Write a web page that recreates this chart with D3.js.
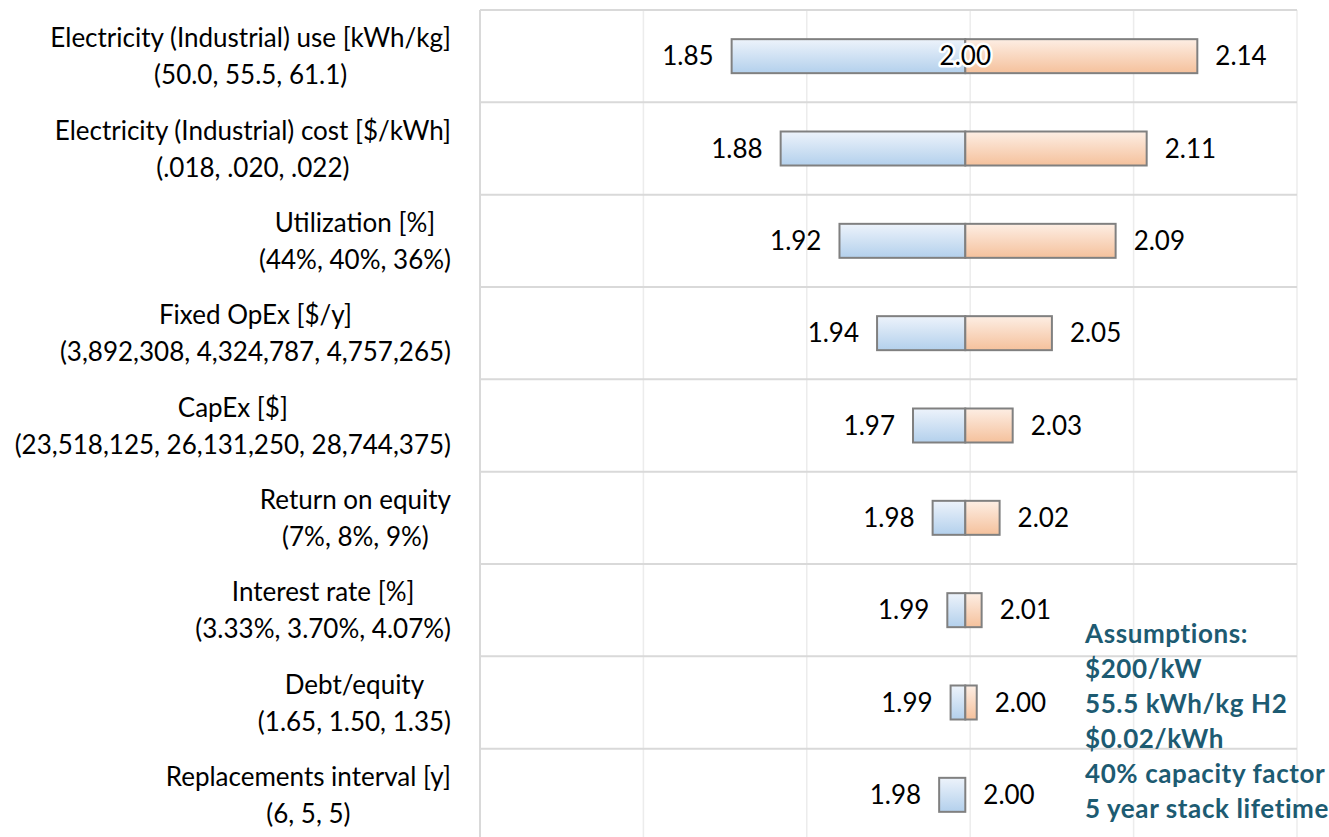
<!DOCTYPE html>
<html>
<head>
<meta charset="utf-8">
<script src="https://cdn.jsdelivr.net/npm/d3@7"></script>
<style>
  body { margin: 0; background: #fff; }
  svg { display: block; }
  text { font-family: Lato, "Open Sans", sans-serif; fill: #000; }
</style>
</head>
<body>
<div class="chartContainer"></div>
<script>
// category labels, two lines each
var paramNames = ["Electricity (Industrial) use [kWh/kg]", "Electricity (Industrial) cost [$/kWh]", "Utilization [%]",
    "Fixed OpEx [$/y]", "CapEx [$]", "Return on equity", "Interest rate [%]", "Debt/equity", "Replacements interval [y]"];
var paramRanges = ["(50.0, 55.5, 61.1)", "(.018, .020, .022)", "(44%, 40%, 36%)",
    "(3,892,308, 4,324,787, 4,757,265)", "(23,518,125, 26,131,250, 28,744,375)", "(7%, 8%, 9%)",
    "(3.33%, 3.70%, 4.07%)", "(1.65, 1.50, 1.35)", "(6, 5, 5)"];

// H2 cost results, low and high cases
var lowValues  = [1.854, 1.884, 1.920, 1.943, 1.965, 1.977, 1.986, 1.988, 1.981];
var highValues = [2.139, 2.108, 2.089, 2.050, 2.026, 2.018, 2.007, 2.004, 1.997];
var baseValue = 1.997;

var axisTicks = [1.7, 1.8, 1.9, 2.0, 2.1, 2.2];

var assumptions = ["Assumptions:", "$200/kW", "55.5 kWh/kg H2", "$0.02/kWh", "40% capacity factor", "5 year stack lifetime"];

window.onload = drawChart();

function drawChart(){
    var width = 1329,
        height = 837;

    var plotLeft = 480, plotRight = 1297, plotTop = 10, plotBottom = 841;

    var svg = d3.select("div.chartContainer")
        .append("svg")
        .attr("width", width)
        .attr("height", height);

    var defs = svg.append("defs");
    makeGradient(defs, "blueGrad", "#edf3fb", "#b3d0ec");
    makeGradient(defs, "orangeGrad", "#fdeee4", "#f5c19c");

    var x = d3.scaleLinear()
        .domain([1.7, 2.2])
        .range([plotLeft, plotRight]);

    var y = d3.scaleBand()
        .domain(d3.range(paramNames.length))
        .range([plotTop, plotBottom]);

    var rows = d3.range(paramNames.length);
    var fmt = d3.format(".2f");
    var fs = "26px";

    //vertical gridlines
    svg.selectAll(".vgrid")
        .data(axisTicks)
        .enter()
        .append("line")
        .attr("class", "vgrid")
        .attr("x1", function(d){ return x(d); })
        .attr("x2", function(d){ return x(d); })
        .attr("y1", plotTop)
        .attr("y2", height)
        .style("stroke", function(d, i){ return i == 0 ? "#d9d9d9" : "#ececec"; })
        .style("stroke-width", function(d, i){ return i == 0 ? 2 : 1.5; });

    //horizontal lines between categories
    svg.selectAll(".hgrid")
        .data(d3.range(paramNames.length + 1))
        .enter()
        .append("line")
        .attr("class", "hgrid")
        .attr("x1", plotLeft)
        .attr("x2", plotRight)
        .attr("y1", function(d){ return plotTop + d * y.step(); })
        .attr("y2", function(d){ return plotTop + d * y.step(); })
        .style("stroke", "#d9d9d9")
        .style("stroke-width", 2);

    var barH = 34;

    //low side bars (blue)
    svg.selectAll(".lowBar")
        .data(rows)
        .enter()
        .append("rect")
        .attr("class", "lowBar")
        .attr("x", function(i){ return x(lowValues[i]); })
        .attr("width", function(i){ return x(baseValue) - x(lowValues[i]); })
        .attr("y", function(i){ return y(i) + y.bandwidth() / 2 - barH / 2; })
        .attr("height", barH)
        .style("fill", "url(#blueGrad)")
        .style("stroke", "#808080")
        .style("stroke-width", 2);

    //high side bars (orange)
    svg.selectAll(".highBar")
        .data(rows.filter(function(i){ return highValues[i] > baseValue; }))
        .enter()
        .append("rect")
        .attr("class", "highBar")
        .attr("x", x(baseValue))
        .attr("width", function(i){ return x(highValues[i]) - x(baseValue); })
        .attr("y", function(i){ return y(i) + y.bandwidth() / 2 - barH / 2; })
        .attr("height", barH)
        .style("fill", "url(#orangeGrad)")
        .style("stroke", "#808080")
        .style("stroke-width", 2);

    //value labels
    svg.selectAll(".lowLabel")
        .data(rows)
        .enter()
        .append("text")
        .attr("class", "lowLabel")
        .attr("x", function(i){ return x(lowValues[i]) - 18; })
        .attr("y", function(i){ return y(i) + y.bandwidth() / 2; })
        .attr("dy", "0.35em")
        .attr("text-anchor", "end")
        .style("font-size", fs)
        .text(function(i){ return fmt(lowValues[i]); });

    svg.selectAll(".highLabel")
        .data(rows)
        .enter()
        .append("text")
        .attr("class", "highLabel")
        .attr("x", function(i){ return x(highValues[i]) + 18; })
        .attr("y", function(i){ return y(i) + y.bandwidth() / 2; })
        .attr("dy", "0.35em")
        .attr("text-anchor", "start")
        .style("font-size", fs)
        .text(function(i){ return fmt(highValues[i]); });

    //base value label on the first bar
    svg.append("text")
        .attr("x", x(baseValue))
        .attr("y", y(0) + y.bandwidth() / 2)
        .attr("dy", "0.35em")
        .attr("text-anchor", "middle")
        .style("font-size", fs)
        .style("stroke", "#fff")
        .style("stroke-width", 5)
        .style("stroke-linejoin", "round")
        .style("paint-order", "stroke")
        .text(fmt(baseValue));

    //category labels, two centred lines, block right aligned
    var labelRight = 451;
    rows.forEach(function(i){
        var cy = y(i) + y.bandwidth() / 2;
        var g = svg.append("g").attr("class", "catLabel");
        var t1 = g.append("text")
            .attr("y", cy - 18)
            .attr("dy", "0.35em")
            .attr("text-anchor", "middle")
            .style("font-size", fs)
            .text(paramNames[i]);
        var t2 = g.append("text")
            .attr("y", cy + 19)
            .attr("dy", "0.35em")
            .attr("text-anchor", "middle")
            .style("font-size", fs)
            .text(paramRanges[i]);
        var w = Math.max(t1.node().getComputedTextLength(), t2.node().getComputedTextLength());
        t1.attr("x", labelRight - w / 2);
        t2.attr("x", labelRight - w / 2);
    });

    //assumptions box
    svg.selectAll(".assume")
        .data(assumptions)
        .enter()
        .append("text")
        .attr("class", "assume")
        .attr("x", 1085)
        .attr("y", function(d, i){ return 634 + i * 35; })
        .attr("dy", "0.35em")
        .style("font-size", fs)
        .style("font-weight", "bold")
        .style("letter-spacing", "0.6px")
        .style("fill", "#1d5b72")
        .text(function(d){ return d; });
};

function makeGradient(defs, id, top, bottom){
    var grad = defs.append("linearGradient")
        .attr("id", id)
        .attr("x1", 0).attr("y1", 0)
        .attr("x2", 0).attr("y2", 1);
    grad.append("stop").attr("offset", "0%").attr("stop-color", top);
    grad.append("stop").attr("offset", "100%").attr("stop-color", bottom);
};
</script>
</body>
</html>
